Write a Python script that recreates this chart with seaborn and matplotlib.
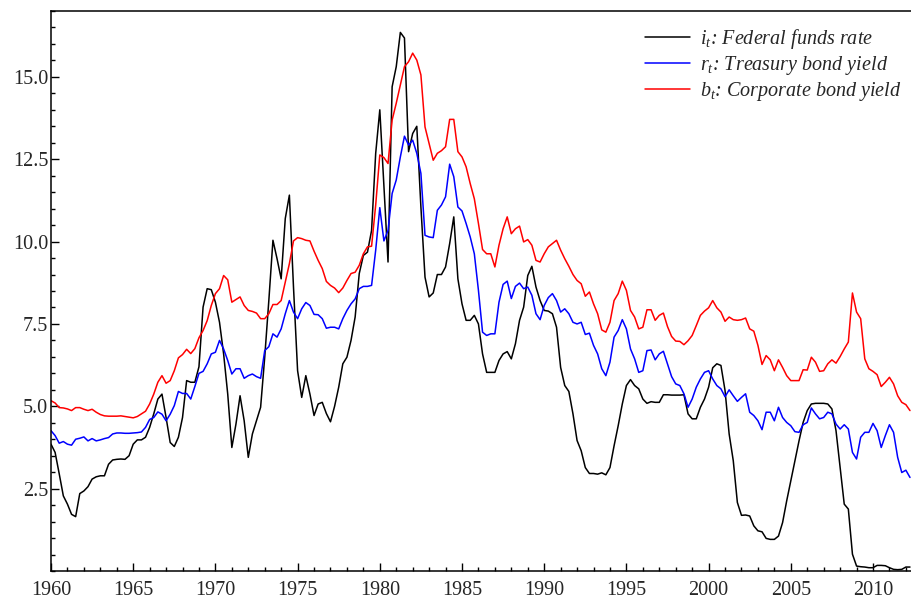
import numpy as np
import pandas as pd
import matplotlib
matplotlib.use("Agg")
import matplotlib.pyplot as plt
from matplotlib.ticker import MultipleLocator, FixedLocator, FormatStrFormatter
from matplotlib.font_manager import FontProperties
import seaborn as sns

# ---- data (quarterly, starting 1960Q1) ----
start_year = 1960

fed_funds = [
    3.85, 3.60, 2.95, 2.28, 2.03, 1.72, 1.65, 2.35, 2.43, 2.56, 2.79, 2.86,
    2.89, 2.89, 3.24, 3.37, 3.39, 3.40, 3.39, 3.50, 3.85, 3.98, 3.98, 4.06,
    4.36, 4.77, 5.22, 5.37, 4.66, 3.90, 3.78, 4.06, 4.66, 5.78, 5.73, 5.73,
    6.20, 8.01, 8.57, 8.54, 8.16, 7.55, 6.59, 5.37, 3.75, 4.46, 5.32, 4.56,
    3.45, 4.16, 4.56, 4.97, 6.49, 8.21, 10.04, 9.48, 8.87, 10.70, 11.41, 8.62,
    6.08, 5.27, 5.93, 5.37, 4.72, 5.07, 5.12, 4.78, 4.53, 5.00, 5.58, 6.29,
    6.49, 7.00, 7.71, 9.03, 9.58, 9.68, 10.34, 12.68, 14.00, 11.66, 9.38, 14.70,
    15.31, 16.35, 16.18, 12.73, 13.28, 13.50, 11.05, 8.92, 8.32, 8.44, 9.00, 9.00,
    9.23, 9.94, 10.75, 8.87, 8.11, 7.61, 7.61, 7.76, 7.50, 6.59, 6.03, 6.03,
    6.03, 6.39, 6.59, 6.66, 6.44, 6.90, 7.61, 8.01, 8.97, 9.25, 8.62, 8.21,
    7.91, 7.89, 7.81, 7.40, 6.18, 5.63, 5.45, 4.77, 3.96, 3.65, 3.14, 2.96,
    2.96, 2.94, 2.98, 2.92, 3.14, 3.80, 4.41, 5.07, 5.63, 5.81, 5.63, 5.53,
    5.22, 5.09, 5.14, 5.12, 5.12, 5.35, 5.35, 5.34, 5.34, 5.34, 5.35, 4.77,
    4.62, 4.62, 4.97, 5.22, 5.58, 6.17, 6.29, 6.24, 5.48, 4.16, 3.35, 2.08,
    1.69, 1.70, 1.67, 1.37, 1.22, 1.19, 0.99, 0.96, 0.96, 1.06, 1.47, 2.13,
    2.74, 3.35, 3.95, 4.51, 4.87, 5.07, 5.09, 5.09, 5.09, 5.07, 4.92, 4.26,
    3.14, 2.03, 1.88, 0.51, 0.15, 0.13, 0.12, 0.10, 0.10, 0.17, 0.17, 0.16,
    0.10, 0.05, 0.04, 0.05, 0.12, 0.12,
]

treasury = [
    4.26, 4.11, 3.88, 3.93, 3.85, 3.82, 4.00, 4.03, 4.07, 3.95, 4.02, 3.95,
    3.98, 4.02, 4.05, 4.16, 4.19, 4.19, 4.18, 4.18, 4.19, 4.20, 4.22, 4.36,
    4.60, 4.66, 4.83, 4.76, 4.56, 4.76, 5.02, 5.45, 5.39, 5.39, 5.22, 5.60,
    6.00, 6.06, 6.29, 6.59, 6.64, 7.00, 6.74, 6.39, 5.98, 6.14, 6.14, 5.85,
    5.93, 5.98, 5.90, 5.85, 6.69, 6.81, 7.20, 7.10, 7.35, 7.81, 8.21, 7.86,
    7.66, 7.96, 8.15, 8.06, 7.79, 7.78, 7.66, 7.37, 7.40, 7.40, 7.35, 7.66,
    7.91, 8.11, 8.26, 8.57, 8.64, 8.64, 8.67, 9.74, 11.03, 10.02, 10.34, 11.46,
    11.87, 12.57, 13.20, 12.93, 13.08, 12.68, 12.07, 10.19, 10.14, 10.12, 10.95, 11.11,
    11.36, 12.35, 11.97, 11.05, 10.93, 10.55, 10.14, 9.63, 8.52, 7.25, 7.15, 7.20,
    7.20, 8.16, 8.70, 8.80, 8.27, 8.64, 8.74, 8.57, 8.62, 8.37, 7.81, 7.63,
    8.06, 8.30, 8.42, 8.21, 7.86, 7.96, 7.81, 7.55, 7.50, 7.55, 7.18, 7.22,
    6.85, 6.59, 6.14, 5.93, 6.34, 7.10, 7.30, 7.63, 7.35, 6.74, 6.44, 6.03,
    6.08, 6.69, 6.71, 6.41, 6.59, 6.67, 6.29, 5.90, 5.68, 5.63, 5.38, 4.97,
    5.22, 5.58, 5.83, 6.03, 6.08, 5.83, 5.63, 5.53, 5.29, 5.50, 5.32, 5.15,
    5.27, 5.38, 4.82, 4.72, 4.56, 4.29, 4.82, 4.82, 4.56, 4.97, 4.66, 4.51,
    4.41, 4.23, 4.21, 4.44, 4.51, 4.95, 4.77, 4.62, 4.66, 4.82, 4.77, 4.46,
    4.31, 4.44, 4.31, 3.60, 3.40, 4.06, 4.21, 4.21, 4.48, 4.26, 3.75, 4.11,
    4.44, 4.21, 3.45, 2.99, 3.06, 2.84,
]

corporate = [
    5.17, 5.10, 4.96, 4.95, 4.92, 4.87, 4.96, 4.96, 4.91, 4.87, 4.91, 4.82,
    4.75, 4.71, 4.70, 4.70, 4.70, 4.71, 4.69, 4.67, 4.65, 4.69, 4.77, 4.85,
    5.07, 5.37, 5.73, 5.93, 5.70, 5.78, 6.08, 6.47, 6.57, 6.73, 6.60, 6.75,
    7.08, 7.30, 7.60, 8.06, 8.42, 8.57, 8.97, 8.84, 8.16, 8.24, 8.32, 8.06,
    7.91, 7.88, 7.83, 7.66, 7.66, 7.81, 8.09, 8.09, 8.21, 8.77, 9.33, 10.02,
    10.12, 10.09, 10.04, 10.02, 9.71, 9.43, 9.18, 8.79, 8.67, 8.59, 8.45, 8.59,
    8.82, 9.03, 9.07, 9.28, 9.63, 9.84, 9.86, 11.11, 12.63, 12.55, 12.37, 13.69,
    14.20, 14.76, 15.31, 15.46, 15.72, 15.51, 15.06, 13.48, 12.98, 12.47, 12.68, 12.76,
    12.88, 13.71, 13.71, 12.73, 12.57, 12.27, 11.76, 11.30, 10.55, 9.76, 9.63, 9.63,
    9.23, 9.89, 10.39, 10.75, 10.24, 10.39, 10.47, 9.99, 10.06, 9.89, 9.43, 9.38,
    9.63, 9.84, 9.94, 10.04, 9.74, 9.48, 9.25, 9.00, 8.82, 8.72, 8.34, 8.47,
    8.11, 7.81, 7.32, 7.25, 7.55, 8.21, 8.42, 8.80, 8.52, 7.91, 7.71, 7.35,
    7.40, 7.93, 7.93, 7.61, 7.76, 7.83, 7.42, 7.12, 6.98, 6.97, 6.87, 6.99,
    7.15, 7.45, 7.76, 7.89, 7.99, 8.21, 7.99, 7.86, 7.58, 7.71, 7.63, 7.61,
    7.63, 7.68, 7.35, 7.28, 6.85, 6.27, 6.54, 6.41, 6.08, 6.41, 6.18, 5.93,
    5.78, 5.78, 5.78, 6.11, 6.10, 6.49, 6.34, 6.06, 6.08, 6.29, 6.41, 6.31,
    6.51, 6.74, 6.95, 8.44, 7.86, 7.66, 6.44, 6.14, 6.06, 5.96, 5.60, 5.73,
    5.88, 5.68, 5.32, 5.12, 5.05, 4.87,
]

series_labels = [
    r"$i_t$: Federal funds rate",
    r"$r_t$: Treasury bond yield",
    r"$b_t$: Corporate bond yield",
]
series_colors = ["black", "blue", "red"]
x_ticks = [1960, 1965, 1970, 1975, 1980, 1985, 1990, 1995, 2000, 2005, 2010]
y_ticks = [2.5, 5.0, 7.5, 10.0, 12.5, 15.0]

# ---- style ----
sns.set_style("ticks")
plt.rcParams["font.family"] = ["Liberation Serif", "DejaVu Serif"]
plt.rcParams["mathtext.fontset"] = "custom"
plt.rcParams["mathtext.rm"] = "Liberation Serif"
plt.rcParams["mathtext.it"] = "Liberation Serif:italic"

n = len(fed_funds)
time = start_year + np.arange(n) / 4.0
frames = []
for lab, vals in zip(series_labels, [fed_funds, treasury, corporate]):
    frames.append(pd.DataFrame({"time": time, "value": vals, "series": lab}))
df = pd.concat(frames, ignore_index=True)

fig = plt.figure(figsize=(9.12, 5.98), dpi=100)
ax = fig.add_axes([51 / 912, 27 / 598, 861 / 912, 560 / 598])

for lab, col in zip(series_labels, series_colors):
    sub = df[df["series"] == lab]
    sns.lineplot(data=sub, x="time", y="value", color=col, linewidth=1.1,
                 label=lab, ax=ax)

ax.set_xlim(1960, 1960 + 861 / 16.44)
ax.set_ylim(0, 17.0)
ax.xaxis.set_major_locator(FixedLocator(x_ticks))
ax.xaxis.set_minor_locator(MultipleLocator(1))
ax.yaxis.set_major_locator(FixedLocator(y_ticks))
ax.yaxis.set_minor_locator(MultipleLocator(0.5))
ax.yaxis.set_major_formatter(FormatStrFormatter("%.1f"))
ax.tick_params(axis="both", which="both", direction="in", top=False, right=False,
               color="black", width=1.0)
ax.tick_params(axis="both", which="major", length=5.5, labelsize=14.5)
ax.tick_params(axis="both", which="minor", length=3)
ax.tick_params(axis="x", which="major", pad=7)
ax.tick_params(axis="y", which="major", pad=2)
ax.set_xlabel("")
ax.set_ylabel("")
for side in ["left", "bottom", "top"]:
    ax.spines[side].set_visible(True)
    ax.spines[side].set_linewidth(1.1)
    ax.spines[side].set_color("black")
ax.spines["right"].set_visible(False)

leg = ax.legend(loc="upper right", bbox_to_anchor=(0.997, 0.985), frameon=False,
                prop=FontProperties(family="Liberation Serif", style="italic", size=14.5),
                handlelength=2.2, handletextpad=0.5, labelspacing=0.15,
                borderaxespad=0.0)
for h in leg.get_lines():
    h.set_linewidth(1.1)

fig.savefig("out.png", dpi=100)
